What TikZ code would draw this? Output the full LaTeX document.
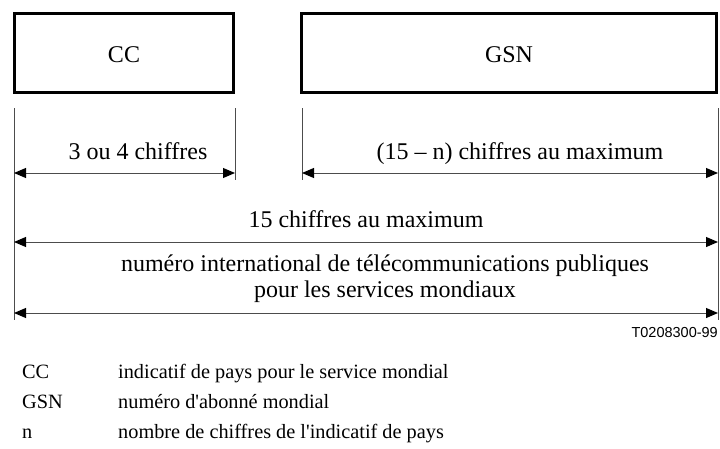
\documentclass[tikz,border=0pt]{standalone}
\usepackage{fontspec}
\setmainfont{Liberation Serif}
\newfontfamily\labsans{Liberation Sans}
\usetikzlibrary{arrows.meta}
\tikzset{
  x=1pt, y=-1pt,
  fieldbox/.style={draw, line width=3pt, inner sep=0pt},
  extline/.style={draw=black!70, line width=1pt},
  dimline/.style={draw=black!70, line width=1pt, {Triangle[length=12pt,width=10pt,black]}-{Triangle[length=12pt,width=10pt,black]}},
  bigtxt/.style={font=\fontsize{24}{28}\selectfont, inner sep=0pt, anchor=base},
  legtxt/.style={font=\fontsize{20.3}{24}\selectfont, inner sep=0pt, anchor=base west},
}
\begin{document}
\begin{tikzpicture}
\useasboundingbox (0,0) rectangle (720,448);
% boxes
\draw[fieldbox] (14.5,13.5) rectangle (233.5,92.5);
\draw[fieldbox] (301.5,13.5) rectangle (716.8,92.5);
\node[bigtxt] (cc) at (124,62) {CC};
\node[bigtxt] (gsn) at (509,62) {GSN};
% extension lines
\coordinate (lt) at (14,108);  \coordinate (lb) at (14,320);
\coordinate (ct) at (235,108); \coordinate (cb) at (235,180);
\coordinate (gt) at (302,108); \coordinate (gb) at (302,180);
\coordinate (rt) at (718,108); \coordinate (rb) at (718,320);
\draw[extline] (lt) -- (lb);
\draw[extline] (ct) -- (cb);
\draw[extline] (gt) -- (gb);
\draw[extline] (rt) -- (rb);
% dimension arrows
\coordinate (a1l) at (14,173);  \coordinate (a1r) at (235,173);
\coordinate (a2l) at (302,173); \coordinate (a2r) at (718,173);
\coordinate (a3l) at (14,242);  \coordinate (a3r) at (718,242);
\coordinate (a4l) at (14,313);  \coordinate (a4r) at (718,313);
\draw[dimline] (a1l) -- (a1r);
\draw[dimline] (a2l) -- (a2r);
\draw[dimline] (a3l) -- (a3r);
\draw[dimline] (a4l) -- (a4r);
% labels
\node[bigtxt] (t1) at (138,159) {3 ou 4 chiffres};
\node[bigtxt] (t2) at (520,159) {(15 – n) chiffres au maximum};
\node[bigtxt] (t3) at (366,227) {15 chiffres au maximum};
\node[bigtxt] (t4) at (385,271.5) {numéro international de télécommunications publiques};
\node[bigtxt] (t5) at (385,297.5) {pour les services mondiaux};
\node[inner sep=0pt, anchor=base east, font=\labsans\fontsize{14.5}{17}\selectfont] (ref) at (718,337) {T0208300-99};
% legend
\node[legtxt] (k1) at (22,378) {CC};
\node[legtxt] (v1) at (118,378) {indicatif de pays pour le service mondial};
\node[legtxt] (k2) at (22,408) {GSN};
\node[legtxt] (v2) at (118,408) {numéro d\textquotesingle abonné mondial};
\node[legtxt] (k3) at (22,438) {n};
\node[legtxt] (v3) at (118,438) {nombre de chiffres de l\textquotesingle indicatif de pays};
\end{tikzpicture}
\end{document}
